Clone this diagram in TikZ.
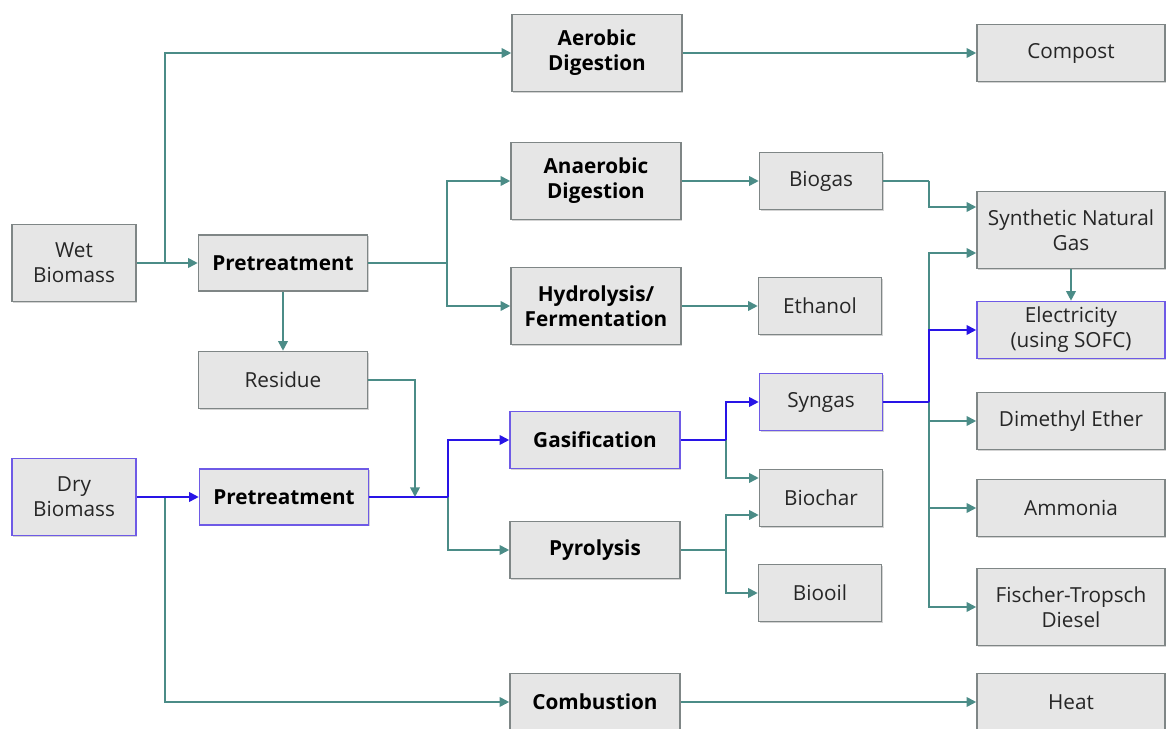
\documentclass[tikz,border=0pt]{standalone}
\usepackage{fontspec}
\setmainfont{Open Sans}
\usetikzlibrary{arrows.meta,shadows,calc}
\definecolor{BoxFill}{HTML}{E6E6E6}
\definecolor{BoxLine}{HTML}{7F8686}
\definecolor{FlowTeal}{HTML}{4B8C87}
\definecolor{FlowBlue}{HTML}{2814E6}
\definecolor{SelLine}{HTML}{6E5AE6}
\definecolor{TextGray}{HTML}{262626}
\tikzset{
    block/.style = {draw=BoxLine, fill=BoxFill, rectangle, line width=0.9pt,
        align=center, inner sep=0pt, text=TextGray,
        font=\fontsize{11.8}{14.2}\selectfont,
        drop shadow={shadow xshift=0.6pt, shadow yshift=-0.6pt, opacity=0.35}},
    step1/.style = {block, text=black, font=\fontsize{11.8}{14.2}\selectfont\bfseries},
    src/.style = {block, minimum width=24.8mm, minimum height=15.4mm},
    pre/.style = {step1, minimum width=33.8mm, minimum height=11.2mm},
    proc/.style = {step1, minimum width=34mm, minimum height=15.4mm},
    procs/.style = {step1, minimum width=34mm, minimum height=11.4mm},
    prod/.style = {block, minimum width=24.6mm, minimum height=11.4mm},
    outp/.style = {block, minimum width=37.6mm, minimum height=11.4mm},
    outt/.style = {block, minimum width=37.6mm, minimum height=15.4mm},
    sel/.style = {draw=SelLine},
    line/.style = {draw=FlowTeal, line width=1pt},
    arrow/.style = {line, -{Triangle[length=5.5pt,width=5.5pt]}},
    bline/.style = {draw=FlowBlue, line width=1pt},
    barrow/.style = {bline, -{Triangle[length=5.5pt,width=5.5pt]}}
}
\begin{document}
\begin{tikzpicture}[x=0.2mm,y=-0.2mm]
        \useasboundingbox (0,0) rectangle (1167,729);
        % sources and pretreatment
        \node [src] (wet) at (74,263) {Wet\\Biomass};
        \node [pre] (pretw) at (283,263) {Pretreatment};
        \node [prod,minimum width=33.8mm] (res) at (283,380) {Residue};
        \node [src,sel] (dry) at (74,497) {Dry\\Biomass};
        \node [pre,sel] (pretd) at (284,497) {Pretreatment};
        % conversion steps
        \node [proc] (aer) at (597,53) {Aerobic\\Digestion};
        \node [proc] (ana) at (596,181) {Anaerobic\\Digestion};
        \node [proc] (hyd) at (596,306) {Hydrolysis/\\Fermentation};
        \node [procs,sel] (gas) at (595,440) {Gasification};
        \node [procs] (pyr) at (595,550) {Pyrolysis};
        \node [procs] (comb) at (595,702) {Combustion};
        % intermediate products
        \node [prod] (biogas) at (821,181) {Biogas};
        \node [prod] (ethanol) at (820,306) {Ethanol};
        \node [prod,sel] (syngas) at (821,402) {Syngas};
        \node [prod] (biochar) at (821,498) {Biochar};
        \node [prod] (biooil) at (820,593) {Biooil};
        % end products
        \node [outp] (compost) at (1071,53) {Compost};
        \node [outt] (sng) at (1071,230) {Synthetic Natural\\Gas};
        \node [outp,sel] (elec) at (1071,330) {Electricity\\(using SOFC)};
        \node [outp] (dme) at (1071,421) {Dimethyl Ether};
        \node [outp] (amm) at (1071,508) {Ammonia};
        \node [outt] (ft) at (1071,607) {Fischer-Tropsch\\Diesel};
        \node [outp] (heat) at (1071,702) {Heat};
        % junctions
        \coordinate (jw) at (165,263);
        \coordinate (jd) at (165,497);
        \coordinate (jpw) at (447,263);
        \coordinate (jres) at (415,497);
        \coordinate (jpd) at (448,497);
        \coordinate (jgas) at (726,440);
        \coordinate (jpyr) at (726,550);
        \coordinate (jbio) at (929,181);
        \coordinate (jsyn) at (929,402);
        \coordinate (jel) at (929,330);
        % wet route
        \draw [arrow] (wet) -- (pretw);
        \draw [arrow] (jw) |- (aer);
        \draw [arrow] (aer) -- (compost);
        \draw [arrow] (pretw) -- (res);
        \draw [line] (pretw) -- (jpw);
        \draw [arrow] (jpw) |- (ana);
        \draw [arrow] (jpw) |- (hyd);
        \draw [arrow] (ana) -- (biogas);
        \draw [arrow] (hyd) -- (ethanol);
        \draw [line] (biogas) -- (jbio);
        \draw [arrow] (jbio) |- ([yshift=4.6mm]sng.west);
        \draw [arrow] (sng) -- (elec);
        % dry route
        \draw [arrow] (jd) |- (comb);
        \draw [arrow] (comb) -- (heat);
        \draw [arrow] (jpd) |- (pyr);
        \draw [line] (pyr) -- (jpyr);
        \draw [arrow] (jpyr) |- ([yshift=-3.4mm]biochar.west);
        \draw [arrow] (jpyr) |- (biooil);
        \draw [arrow] (jgas) |- ([yshift=4mm]biochar.west);
        \draw [arrow] (jel) |- ([yshift=-4.6mm]sng.west);
        \draw [arrow] (jsyn) |- (dme);
        \draw [arrow] (jsyn) |- (amm);
        \draw [arrow] (jsyn) |- (ft);
        % blue path on top
        \draw [barrow] (dry) -- (pretd);
        \draw [bline] (pretd) -- (jpd);
        \draw [barrow] (jpd) |- (gas);
        \draw [bline] (gas) -- (jgas);
        \draw [barrow] (jgas) |- (syngas);
        \draw [bline] (syngas) -- (jsyn);
        \draw [barrow] (jsyn) |- (elec);
        \draw [arrow] (res) -| (jres);
    \end{tikzpicture}
\end{document}
